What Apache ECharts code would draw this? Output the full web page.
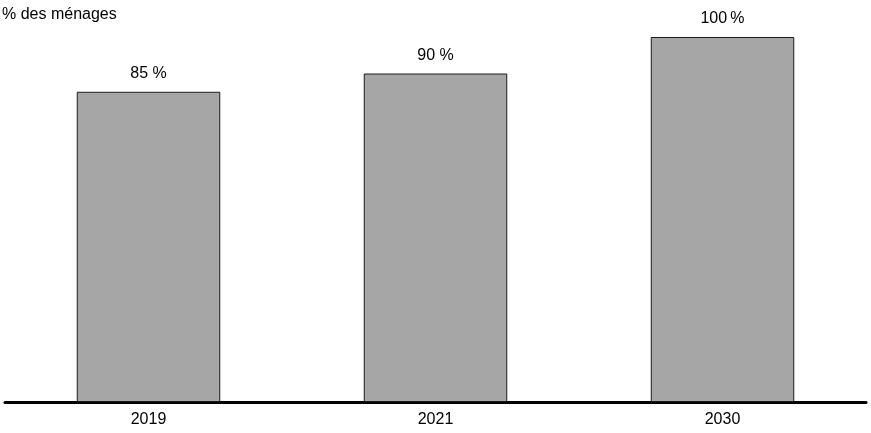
<!DOCTYPE html>
<html>
<head>
<meta charset="utf-8">
<script src="https://cdn.jsdelivr.net/npm/echarts@6/dist/echarts.min.js"></script>
<style>
html, body { margin: 0; padding: 0; background: #fff; }
#chart { width: 871px; height: 433px; }
</style>
</head>
<body>
<div id="chart"></div>
<script>
var years = ['2019', '2021', '2030'];
var values = [85, 90, 100];
var valueLabels = ['85 %', '90 %', '100\u2009%'];

var chart = echarts.init(document.getElementById('chart'));
var option = {
	animation: false,
	title: {
		text: '% des ménages',
		left: -3,
		top: 2,
		textStyle: { fontFamily: 'Liberation Sans', fontSize: 16, fontWeight: 'normal', color: '#000' }
	},
	grid: { left: 5, right: 5, top: 37, bottom: 31 },
	xAxis: {
		type: 'category',
		data: years,
		axisLine: { lineStyle: { color: '#000', width: 3 } },
		axisTick: { show: false },
		axisLabel: { color: '#000', fontFamily: 'Liberation Sans', fontSize: 16, margin: 10 }
	},
	yAxis: {
		type: 'value',
		min: 0,
		max: 100,
		show: false
	},
	series: [{
		type: 'bar',
		data: values,
		barWidth: '50%',
		itemStyle: { color: '#a6a6a6', borderColor: '#1a1a1a', borderWidth: 1 },
		label: {
			show: true,
			position: 'top',
			distance: 10,
			color: '#000',
			fontFamily: 'Liberation Sans',
			fontSize: 16,
			formatter: function (p) { return valueLabels[p.dataIndex]; }
		}
	}]
};
chart.setOption(option);
</script>
</body>
</html>
